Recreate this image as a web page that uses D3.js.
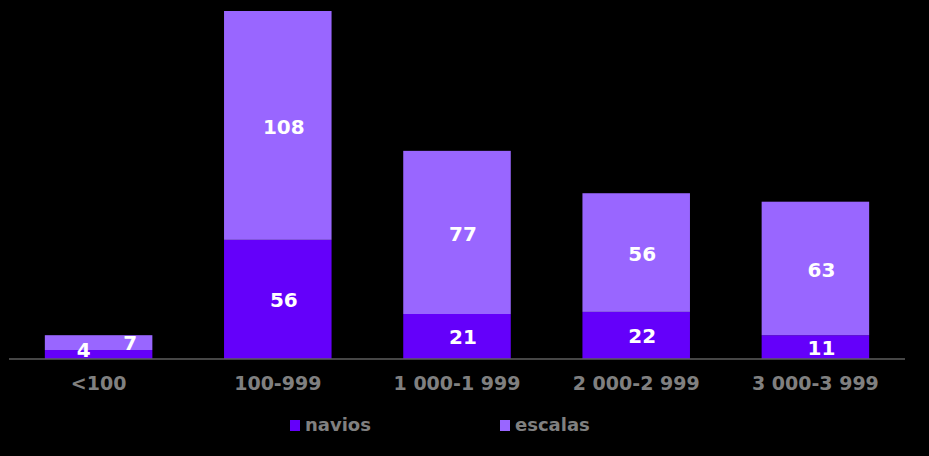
<!DOCTYPE html>
<html><head><meta charset="utf-8">
<script src="https://cdn.jsdelivr.net/npm/d3@7"></script>
<style>
html,body{margin:0;padding:0;background:#000;}
svg{display:block;}
</style></head>
<body>
<svg id="chart" width="929" height="456"></svg>
<script>
const categories = ["<100", "100-999", "1 000-1 999", "2 000-2 999", "3 000-3 999"];
const navios = [4, 56, 21, 22, 11];
const escalas = [7, 108, 77, 56, 63];
const seriesNames = ["navios", "escalas"];
const colors = {navios: "#6400fa", escalas: "#9966ff"};

const svg = d3.select("#chart");
const W = 929, H = 456;
svg.append("rect").attr("width", W).attr("height", H).attr("fill", "#000");

const x = d3.scaleBand().domain(categories).range([9, 905]).paddingInner(0.4).paddingOuter(0.2);
const y = d3.scaleLinear().domain([0, 164]).range([358.5, 11]);

const table = categories.map((c, i) => ({cat: c, navios: navios[i], escalas: escalas[i]}));
const stacked = d3.stack().keys(seriesNames)(table);

const font = "'DejaVu Sans', Verdana, sans-serif";

stacked.forEach(s => {
  svg.append("g").selectAll("rect").data(s).join("rect")
    .attr("x", d => x(d.data.cat))
    .attr("width", x.bandwidth())
    .attr("y", d => y(d[1]))
    .attr("height", d => y(d[0]) - y(d[1]))
    .attr("fill", colors[s.key]);
});

// axis line
svg.append("line").attr("x1", 9).attr("x2", 905).attr("y1", y(0) + 0.5).attr("y2", y(0) + 0.5)
  .attr("stroke", "#8c8c8c").attr("stroke-width", 1.2);

// data labels
stacked.forEach((s, si) => {
  svg.append("g").selectAll("text").data(s).join("text")
    .attr("x", d => {
      const cx = x(d.data.cat) + x.bandwidth() / 2;
      const h = y(d[0]) - y(d[1]);
      if (h < 20) return cx + (si === 0 ? -15 : 31.5);
      return cx + 6;
    })
    .attr("y", d => {
      const h = y(d[0]) - y(d[1]);
      const mid = (y(d[0]) + y(d[1])) / 2;
      if (h < 20) return si === 0 ? 350 : 343;
      return mid + 1;
    })
    .attr("dy", "0.36em")
    .attr("text-anchor", "middle")
    .attr("fill", "#fff")
    .attr("font-family", font)
    .attr("font-weight", "bold")
    .attr("font-size", "20px")
    .text(d => d[1] - d[0]);
});

// x axis labels
const xAxis = d3.axisBottom(x).tickSize(0).tickPadding(0);
const gx = svg.append("g").attr("transform", `translate(0,${y(0)})`).call(xAxis);
gx.select(".domain").remove();
gx.selectAll("text")
  .attr("y", 25).attr("dy", "0.36em")
  .attr("fill", "#808080")
  .attr("font-family", font)
  .attr("font-weight", "bold")
  .attr("font-size", "19px");

// legend
const legendX = [290, 500];
const lg = svg.append("g");
seriesNames.forEach((n, i) => {
  lg.append("rect").attr("x", legendX[i]).attr("y", 420).attr("width", 10).attr("height", 11).attr("fill", colors[n]);
  lg.append("text").attr("x", legendX[i] + 15).attr("y", 425).attr("dy", "0.36em")
    .attr("fill", "#808080").attr("font-family", font).attr("font-weight", "bold")
    .attr("font-size", "18px").text(n);
});
</script>
</body></html>
